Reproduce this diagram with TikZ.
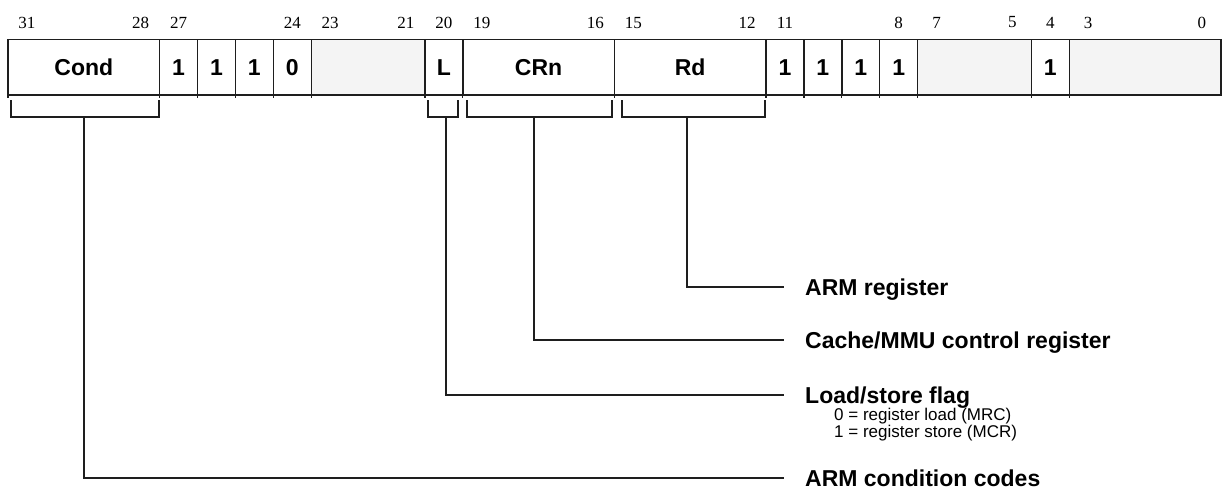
\documentclass[tikz,border=0pt]{standalone}
\usepackage{fontspec}
\setmainfont{Liberation Serif}
\setsansfont{Liberation Sans}
\definecolor{resv}{HTML}{F4F4F4}
\definecolor{ink}{HTML}{1E1E1E}
\tikzset{
  fieldbox/.style={draw=ink, line width=1.4pt, inner sep=0pt, outer sep=0pt,
    minimum height=55.5pt, anchor=north west,
    font=\fontsize{23}{27}\selectfont\sffamily\bfseries},
  bitnum/.style={inner sep=0pt, font=\fontsize{17}{20}\selectfont},
  lbl/.style={inner sep=0pt, anchor=base west,
    font=\fontsize{23}{27}\selectfont\sffamily\bfseries},
  sublbl/.style={inner sep=0pt, anchor=base west,
    font=\fontsize{17}{17}\selectfont\sffamily},
  brk/.style={draw=ink, line width=1.3pt},
  conn/.style={draw=ink, line width=1.3pt},
}
\begin{document}
\begin{tikzpicture}[x=1pt,y=-1pt]
\useasboundingbox (0,0) rectangle (1222,491);
% fields
\foreach \n/\h/\l/\t/\f in {cond/31/28/Cond/white, bA/27/27/1/white, bB/26/26/1/white,
  bC/25/25/1/white, bD/24/24/0/white, rA/23/21//resv, lflag/20/20/L/white,
  crn/19/16/CRn/white, rd/15/12/Rd/white, bE/11/11/1/white, bF/10/10/1/white,
  bG/9/9/1/white, bH/8/8/1/white, rB/7/5//resv, bI/4/4/1/white, rC/3/0//resv}{
  \node[fieldbox, fill=\f, minimum width={(\h-\l+1)*37.9pt}] (\n) at ({8+(31-\h)*37.9},39.5) {\raisebox{-1.5pt}{\t}};
  \draw[draw=ink, line width=1.2pt] (\n.south west) -- ++(0,2.5);
}
% bit numbers
\foreach \b in {31,28,27,24,23,21,20,19,16,15,12,11,8,7,5,4,3,0}{
  \node[bitnum] (n\b) at ({8+(31-\b+0.5)*37.9},22.5) {\b};
}
% labels
\node[lbl] (lrd) at (805,295) {ARM register};
\node[lbl] (lcrn) at (805,348) {Cache/MMU control register};
\node[lbl] (lflagtxt) at (805,403) {Load/store flag};
\node[sublbl] (sub0) at (834,420) {0 = register load (MRC)};
\node[sublbl] (sub1) at (834,437) {1 = register store (MCR)};
\node[lbl] (lcond) at (805,486) {ARM condition codes};
% bracket coordinates
\coordinate (cA) at (11,100);  \coordinate (cB) at (159,100); \coordinate (cS) at (84,117);
\coordinate (fA) at (428,100); \coordinate (fB) at (458,100); \coordinate (fS) at (446,117);
\coordinate (kA) at (467,100); \coordinate (kB) at (612,100); \coordinate (kS) at (534,117);
\coordinate (dA) at (622,100); \coordinate (dB) at (765,100); \coordinate (dS) at (687,117);
\coordinate (eRd) at (784,287);
\coordinate (eCrn) at (784,340);
\coordinate (eFlag) at (784,395);
\coordinate (eCond) at (784,478);
% brackets
\draw[brk] (cA) -- (cA |- cS) -- (cB |- cS) -- (cB);
\draw[brk] (fA) -- (fA |- fS) -- (fB |- fS) -- (fB);
\draw[brk] (kA) -- (kA |- kS) -- (kB |- kS) -- (kB);
\draw[brk] (dA) -- (dA |- dS) -- (dB |- dS) -- (dB);
% connectors
\draw[conn] (dS) |- (eRd);
\draw[conn] (kS) |- (eCrn);
\draw[conn] (fS) |- (eFlag);
\draw[conn] (cS) |- (eCond);
\end{tikzpicture}
\end{document}
